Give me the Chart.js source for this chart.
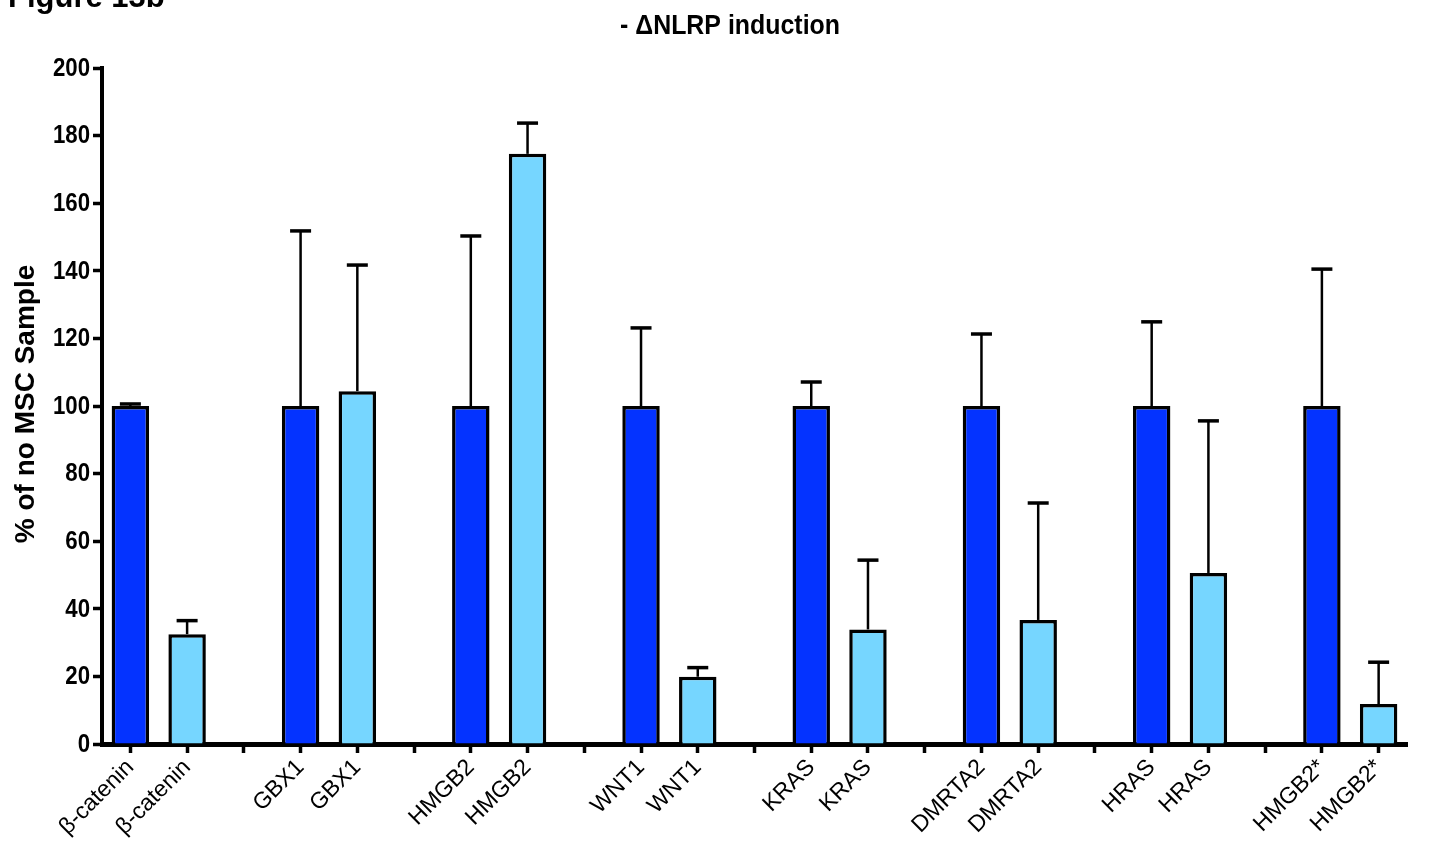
<!DOCTYPE html>
<html>
<head>
<meta charset="utf-8">
<title>ΔNLRP induction</title>
<script src="https://cdn.jsdelivr.net/npm/chart.js@4.4.1/dist/chart.umd.min.js"></script>
<style>
  html, body { margin: 0; padding: 0; background: #fff; }
  #wrap { width: 1429px; height: 845px; position: relative; }
</style>
</head>
<body>
<div id="wrap"><canvas id="chart"></canvas></div>
<script>
// % of no-MSC sample, mean and upper error for each gene
const genes = ["β-catenin", "GBX1", "HMGB2", "WNT1", "KRAS", "DMRTA2", "HRAS", "HMGB2*"];
const controlMean = [100, 100, 100, 100, 100, 100, 100, 100];
const controlErr = [0.6, 51.8, 50.3, 23.1, 7.1, 21.3, 24.9, 40.5];
const treatedMean = [32.5, 104.4, 174.6, 19.9, 33.9, 36.7, 50.6, 11.8];
const treatedErr = [4.0, 37.3, 9.1, 2.7, 20.5, 34.6, 45.0, 12.4];
const yTicks = [0, 20, 40, 60, 80, 100, 120, 140, 160, 180, 200];

const DARK = '#0433FF';
const LIGHT = '#76D6FF';
const SANS = '"Liberation Sans", Arial, sans-serif';
const SQUEEZE = 0.89; // horizontal squeeze for the condensed bold text

// two bars per gene, then an empty slot between genes
const labels = [], values = [], errors = [], colors = [];
genes.forEach((g, i) => {
  labels.push(g, g);
  values.push(controlMean[i], treatedMean[i]);
  errors.push(controlErr[i], treatedErr[i]);
  colors.push(DARK, LIGHT);
  if (i < genes.length - 1) {
    labels.push('');
    values.push(null);
    errors.push(null);
    colors.push(DARK);
  }
});

const errorBars = {
  id: 'errorBars',
  afterDatasetsDraw(chart) {
    const { ctx, scales: { x, y } } = chart;
    ctx.save();
    ctx.strokeStyle = '#000';
    ctx.lineCap = 'butt';
    values.forEach((v, i) => {
      if (v == null) return;
      const px = x.getPixelForValue(i);
      const base = y.getPixelForValue(v);
      const top = y.getPixelForValue(v + errors[i]);
      ctx.lineWidth = 2.5;
      ctx.beginPath();
      ctx.moveTo(px, base);
      ctx.lineTo(px, top);
      ctx.stroke();
      ctx.lineWidth = 3.5;
      ctx.beginPath();
      ctx.moveTo(px - 10.5, top);
      ctx.lineTo(px + 10.5, top);
      ctx.stroke();
    });
    ctx.restore();
  }
};

// narrow bold text: squeeze horizontally around the anchor
function narrowText(ctx, str, x, y, size, align) {
  ctx.save();
  ctx.translate(x, y);
  ctx.scale(SQUEEZE, 1);
  ctx.font = 'bold ' + size + 'px ' + SANS;
  ctx.textAlign = align;
  ctx.textBaseline = 'middle';
  ctx.fillText(str, 0, 0);
  ctx.restore();
}

const texts = {
  id: 'texts',
  afterDraw(chart) {
    const ctx = chart.ctx;
    const y = chart.scales.y;
    ctx.save();
    ctx.fillStyle = '#000';

    ctx.font = 'bold 31px ' + SANS;
    ctx.textAlign = 'left';
    ctx.textBaseline = 'alphabetic';
    ctx.fillText('Figure 13b', 8, 7);

    narrowText(ctx, '- ΔNLRP induction', 730, 26, 28, 'center');

    // y tick labels
    y.ticks.forEach(t => {
      narrowText(ctx, String(t.value), 90, y.getPixelForValue(t.value) + 1, 25, 'right');
    });

    ctx.translate(26, 404);
    ctx.rotate(-Math.PI / 2);
    ctx.font = 'bold 28px ' + SANS;
    ctx.textAlign = 'center';
    ctx.textBaseline = 'middle';
    ctx.fillText('% of no MSC Sample', 0, 0);
    ctx.restore();
  }
};

new Chart(document.getElementById('chart'), {
  type: 'bar',
  data: {
    labels: labels,
    datasets: [{
      data: values,
      backgroundColor: colors,
      borderColor: '#000',
      borderWidth: 3.5,
      categoryPercentage: 0.66,
      barPercentage: 1
    }]
  },
  options: {
    responsive: true,
    maintainAspectRatio: false,
    animation: false,
    devicePixelRatio: 1,
    layout: { padding: { top: 68, right: 22, left: 0, bottom: 0 } },
    plugins: {
      legend: { display: false },
      tooltip: { enabled: false },
      title: { display: false }
    },
    scales: {
      x: {
        afterFit(scale) { scale.height = 101; },
        grid: {
          offset: false,
          drawOnChartArea: false,
          drawTicks: true,
          tickLength: 9,
          tickWidth: 3.5,
          tickColor: '#000'
        },
        border: { display: true, color: '#000', width: 5 },
        ticks: {
          autoSkip: false,
          minRotation: 45,
          maxRotation: 45,
          padding: 1,
          color: '#000',
          font: { family: SANS, size: 23 }
        }
      },
      y: {
        min: 0,
        max: 200,
        afterFit(scale) { scale.width = 102; },
        afterBuildTicks(scale) { scale.ticks = yTicks.map(v => ({ value: v })); },
        grid: {
          drawOnChartArea: false,
          drawTicks: true,
          tickLength: 9,
          tickWidth: 3.5,
          tickColor: '#000'
        },
        border: { display: true, color: '#000', width: 4 },
        ticks: {
          padding: 3,
          color: 'rgba(0,0,0,0)',
          font: { family: SANS, size: 26, weight: 'bold' }
        }
      }
    }
  },
  plugins: [errorBars, texts]
});
</script>
</body>
</html>
